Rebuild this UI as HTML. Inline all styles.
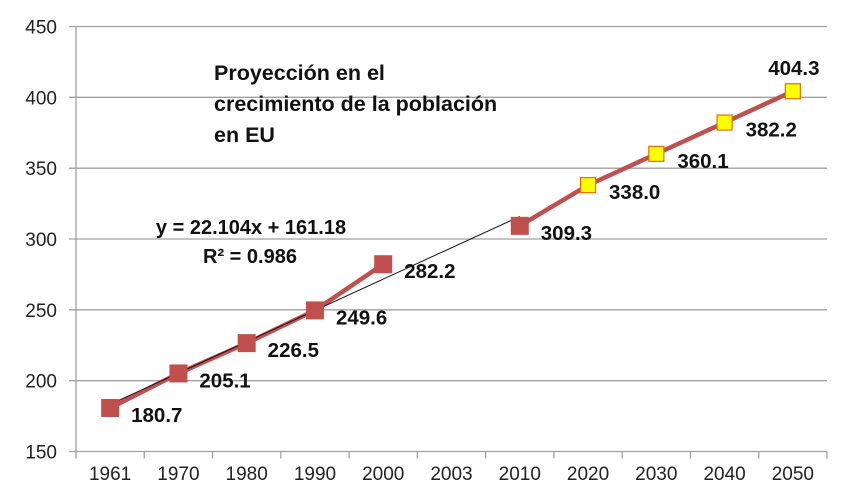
<!DOCTYPE html>
<html><head><meta charset="utf-8"><style>
html,body{margin:0;padding:0;background:#fff;}
svg{display:block;font-family:"Liberation Sans",Arial,sans-serif;}
</style></head><body>
<svg id="chart" width="862" height="497" viewBox="0 0 862 497"></svg>
<script>
const categories = ["1961","1970","1980","1990","2000","2003","2010","2020","2030","2040","2050"];
const historicValues = [180.7,205.1,226.5,249.6,282.2,null,309.3,null,null,null,null];
const projectedValues = [null,null,null,null,null,null,309.3,338.0,360.1,382.2,404.3];
const yTicks = [150,200,250,300,350,400,450];
const trendSlope = 22.104, trendIntercept = 161.18;

const NS="http://www.w3.org/2000/svg";
const svg=document.getElementById('chart');
const L=76,R=827,T=26.5,B=451.5;
const band=(R-L)/categories.length;
const xS=i=>L+band*(i+0.5);
const yS=v=>B-(v-150)/300*(B-T);
function mk(tag,attrs,parent){const e=document.createElementNS(NS,tag);for(const k in attrs)e.setAttribute(k,attrs[k]);(parent||svg).appendChild(e);return e;}

yTicks.forEach(v=>{
  const g=mk('line',{x1:L-7,x2:R,y1:yS(v),y2:yS(v),stroke:'#a0a0a0','stroke-width':1.3});
  
  
  const t=mk('text',{x:57,y:yS(v)+7,'text-anchor':'end','font-size':19,fill:'#222'});
  t.textContent=v;
  
  
});
const ya=mk('line',{x1:L,x2:L,y1:T,y2:B,stroke:'#a0a0a0','stroke-width':1.3});


for(let i=0;i<=categories.length;i++){
  const tk=mk('line',{x1:L+band*i,x2:L+band*i,y1:B,y2:B+7,stroke:'#a0a0a0','stroke-width':1.3});
  
  
}
categories.forEach((c,i)=>{
  const t=mk('text',{x:xS(i),y:480,'text-anchor':'middle','font-size':19,fill:'#222'});
  t.textContent=c;
  
  
});

function path(vals){let segs=[],cur=[];vals.forEach((v,i)=>{if(v==null){if(cur.length)segs.push(cur);cur=[];}else cur.push([xS(i),yS(v)]);});if(cur.length)segs.push(cur);return segs.filter(s=>s.length>1).map(s=>'M'+s.map(p=>p.join(',')).join('L')).join('');}
const l1=mk('path',{d:path(historicValues),fill:'none',stroke:'#c0504d','stroke-width':4.5,'stroke-linejoin':'round'});


const l2=mk('path',{d:path(projectedValues),fill:'none',stroke:'#c0504d','stroke-width':4.5,'stroke-linejoin':'round'});



const tr=mk('line',{x1:xS(0),y1:yS(trendSlope*1+trendIntercept),x2:xS(6),y2:yS(trendSlope*7+trendIntercept),stroke:'#111','stroke-width':1});



historicValues.forEach((v,i)=>{
  if(v==null)return;
  const s=mk('rect',{x:xS(i)-9,y:yS(v)-9,width:18,height:18,fill:'#c0504d'});
  
  
});
projectedValues.forEach((v,i)=>{
  if(v==null||historicValues[i]!=null)return;
  const s=mk('rect',{x:xS(i)-7.5,y:yS(v)-7.5,width:15,height:15,fill:'#ffff00',stroke:'#e46c0a','stroke-width':1.2});
  
  
});
const labelVals=historicValues.map((v,i)=>v!=null?v:projectedValues[i]);
labelVals.forEach((v,i)=>{
  if(v==null)return;
  const last=i===categories.length-1;
  const t=mk('text',{x:last?xS(i)+1:xS(i)+21,y:last?yS(v)-16:yS(v)+14,'text-anchor':last?'middle':'start','font-size':20.5,'font-weight':'bold',fill:'#111'});
  t.textContent=v.toFixed(1);
  
  
});

[["Proyección en el",80],["crecimiento de la población",111],["en EU",142]].forEach(([s,y])=>{
  const t=mk('text',{x:214,y:y,'font-size':21.5,'font-weight':'bold',fill:'#111'});
  t.textContent=s;
  
  
});
const e1=mk('text',{x:251,y:234,'text-anchor':'middle','font-size':20,'font-weight':'bold',fill:'#111'});
e1.textContent='y = 22.104x + 161.18';


const e2=mk('text',{x:250,y:263,'text-anchor':'middle','font-size':20,'font-weight':'bold',fill:'#111'});
e2.textContent='R² = 0.986';


</script>
</body></html>
